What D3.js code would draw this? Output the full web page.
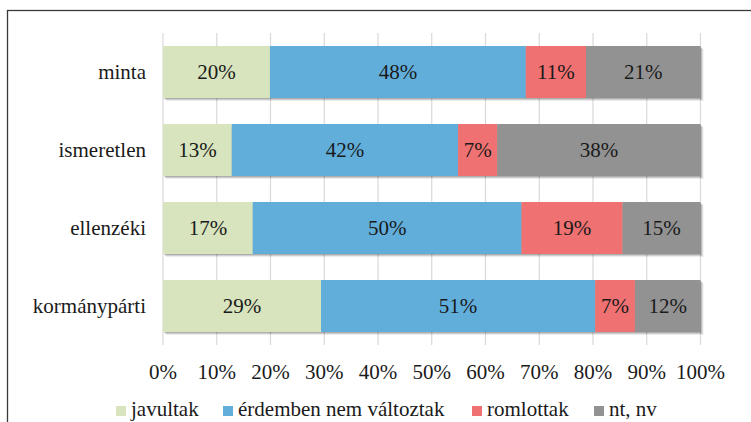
<!DOCTYPE html>
<html>
<head>
<meta charset="utf-8">
<style>
body { margin: 0; background: #fff; }
svg text { font-family: "Times New Roman", "Liberation Serif", Tinos, "DejaVu Serif" !important; font-size: 21px; fill: #1a1a1a; }
</style>
</head>
<body>
<script src="https://cdn.jsdelivr.net/npm/d3@7"></script>
<script>

// categories, top to bottom
var categories = ["minta", "ismeretlen", "ellenzéki", "kormánypárti"];
var seriesNames = ["javultak", "érdemben nem változtak", "romlottak", "nt, nv"];
var seriesColors = ["#d7e4bd", "#61aeda", "#f07171", "#929292"];

// share in % per category, same order as seriesNames
var javultak   = [19.9, 12.8, 16.7, 29.4];
var erdemben   = [47.6, 42.1, 50.0, 51.0];
var romlottak  = [11.2, 7.3, 18.8, 7.4];
var ntnv       = [21.3, 37.8, 14.5, 12.2];

var tickValues = [0, 10, 20, 30, 40, 50, 60, 70, 80, 90, 100];

var width = 751,
    height = 422;

var svg = d3.select("body").append("svg")
    .attr("width", width)
    .attr("height", height);

function labelStyle(sel) {
  sel.attr("font-family", "Times New Roman, Liberation Serif, Tinos")
      .attr("font-size", 21);
}

// outer frame (cut off on the right and bottom)
svg.append("rect")
    .attr("x", 7.5).attr("y", 10.5)
    .attr("width", 800).attr("height", 500)
    .attr("fill", "none")
    .attr("stroke", "#3a3a3a")
    .attr("stroke-width", 1.3);

var x = d3.scaleLinear().domain([0, 100]).range([163, 700.5]);
var y = d3.scaleBand().domain(categories).range([33, 345]).paddingInner(1 / 3).paddingOuter(1 / 6);

// gridlines
svg.append("g").selectAll("line")
    .data(tickValues)
  .enter().append("line")
    .attr("x1", function(d) { return x(d); })
    .attr("x2", function(d) { return x(d); })
    .attr("y1", 33).attr("y2", 345)
    .attr("stroke", "#d9d9d9")
    .attr("stroke-width", 1.2);

// x tick labels
svg.append("g").selectAll("text")
    .data(tickValues)
  .enter().append("text")
    .attr("x", function(d) { return x(d); })
    .attr("y", 379)
    .attr("text-anchor", "middle")
    .call(labelStyle)
    .text(function(d) { return d + "%"; });

// category labels
svg.append("g").selectAll("text")
    .data(categories)
  .enter().append("text")
    .attr("x", 146)
    .attr("y", function(d) { return y(d) + y.bandwidth() / 2 + 7; })
    .attr("text-anchor", "end")
    .call(labelStyle)
    .text(function(d) { return d; });

// stacked bars
var rows = categories.map(function(c, i) {
  return { cat: c, javultak: javultak[i], erdemben: erdemben[i], romlottak: romlottak[i], ntnv: ntnv[i] };
});
var keys = ["javultak", "erdemben", "romlottak", "ntnv"];
var stacked = d3.stack().keys(keys)(rows);

var bars = svg.append("g");
// soft shadow: a few offset translucent rects behind each bar
[[3, 0.08], [2, 0.12], [1, 0.16]].forEach(function(s) {
  bars.append("g").selectAll("rect")
      .data(rows)
    .enter().append("rect")
      .attr("x", x(0) + s[0])
      .attr("y", function(d) { return y(d.cat) + s[0]; })
      .attr("width", function(d) { return x(d.javultak + d.erdemben + d.romlottak + d.ntnv) - x(0); })
      .attr("height", y.bandwidth())
      .attr("fill", "#000")
      .attr("fill-opacity", s[1]);
});

var layer = bars.selectAll("g.layer")
    .data(stacked)
  .enter().append("g")
    .attr("class", "layer")
    .attr("fill", function(d, i) { return seriesColors[i]; });

layer.selectAll("rect")
    .data(function(d) { return d; })
  .enter().append("rect")
    .attr("x", function(d) { return x(d[0]); })
    .attr("y", function(d) { return y(d.data.cat); })
    .attr("width", function(d) { return x(d[1]) - x(d[0]); })
    .attr("height", y.bandwidth());

// value labels
layer.selectAll("text")
    .data(function(d) { return d; })
  .enter().append("text")
    .attr("x", function(d) { return (x(d[0]) + x(d[1])) / 2; })
    .attr("y", function(d) { return y(d.data.cat) + y.bandwidth() / 2 + 7; })
    .attr("text-anchor", "middle")
    .call(labelStyle)
    .text(function(d) { return Math.round(d[1] - d[0]) + "%"; });

// legend
var legendX = [116, 223, 472, 594];
var legend = svg.append("g").selectAll("g")
    .data(seriesNames)
  .enter().append("g")
    .attr("transform", function(d, i) { return "translate(" + legendX[i] + ",0)"; });

legend.append("rect")
    .attr("x", 0).attr("y", 406)
    .attr("width", 10).attr("height", 10)
    .attr("fill", function(d, i) { return seriesColors[i]; });

legend.append("text")
    .attr("x", 15).attr("y", 416)
    .call(labelStyle)
    .text(function(d) { return d; });

</script>
</body>
</html>
